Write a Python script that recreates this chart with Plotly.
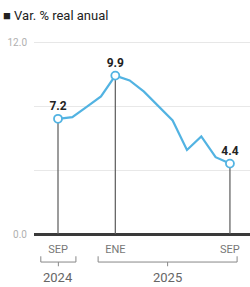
import plotly.graph_objects as go

months = ["SEP", "OCT", "NOV", "DIC", "ENE", "FEB", "MAR", "ABR", "MAY", "JUN", "JUL", "AGO", "SEP"]
values = [7.2, 7.3, 7.95, 8.6, 9.9, 9.6, 8.9, 8.0, 7.1, 5.25, 6.1, 4.8, 4.4]
highlight_idx = [0, 4, 12]
tick_idx = [0, 4, 12]
tick_labels = ["SEP", "ENE", "SEP"]
years = ["2024", "2025"]
year_spans = [(-1.2, 1.25), (2.8, 12.5)]
y_ticks = [0, 4, 8, 12]
y_ticktext = ["0.0", "", "", "12.0"]

x = list(range(len(values)))
BLUE = "#52b3e2"

fig = go.Figure()

for i in highlight_idx:
    fig.add_trace(go.Scatter(x=[i, i], y=[0, values[i]], mode="lines",
                             line=dict(color="#5a5a5a", width=1.2),
                             hoverinfo="skip", showlegend=False))

fig.add_trace(go.Scatter(x=x, y=values, mode="lines",
                         line=dict(color=BLUE, width=2.2),
                         showlegend=False))

fig.add_trace(go.Scatter(x=[x[i] for i in highlight_idx],
                         y=[values[i] for i in highlight_idx],
                         mode="markers+text",
                         marker=dict(size=8, color="white", line=dict(color=BLUE, width=1.8)),
                         text=[f"{values[i]:.1f}" for i in highlight_idx],
                         textposition="top center",
                         textfont=dict(family="Roboto", size=12, color="#222222", weight="bold"),
                         cliponaxis=False,
                         showlegend=False))

fig.update_layout(
    width=250, height=287,
    margin=dict(l=34, r=0, t=42, b=53),
    paper_bgcolor="white", plot_bgcolor="white",
    font=dict(family="Roboto"),
    xaxis=dict(range=[-1.675, 13.4], tickvals=tick_idx, ticktext=tick_labels,
               showgrid=False, zeroline=False, showline=False,
               tickfont=dict(family="Liberation Sans Narrow, Roboto", size=11, color="#777777"),
               ticks="", ticklabelstandoff=7, fixedrange=True, automargin=False),
    yaxis=dict(range=[0, 12], tickvals=y_ticks, ticktext=y_ticktext,
               showgrid=True, gridcolor="#e8e8e8", gridwidth=1,
               zeroline=True, zerolinecolor="#3a3a3a", zerolinewidth=2.5,
               tickfont=dict(family="Liberation Sans Narrow, Roboto", size=10, color="#b0b0b0"),
               ticks="", ticklabelstandoff=6, showline=False, fixedrange=True, automargin=False),
)

# top gridline darker
fig.add_shape(type="line", xref="paper", yref="y", x0=0, x1=1, y0=12, y1=12,
              line=dict(color="#cfcfcf", width=1))

# year brackets
for yr, (x0, x1) in zip(years, year_spans):
    xm = (x0 + x1) / 2
    yb = -0.146
    for sh in [dict(x0=x0, x1=x1, y0=yb, y1=yb),
               dict(x0=x0, x1=x0, y0=yb, y1=yb + 0.03),
               dict(x0=x1, x1=x1, y0=yb, y1=yb + 0.03),
               dict(x0=xm, x1=xm, y0=yb, y1=yb - 0.022)]:
        fig.add_shape(type="line", xref="x", yref="paper",
                      line=dict(color="#888888", width=1), **sh)
    fig.add_annotation(x=xm, y=-0.178, xref="x", yref="paper", text=yr,
                       showarrow=False, yanchor="top",
                       font=dict(family="Liberation Sans Narrow, Roboto", size=13, color="#666666"))

# legend label
fig.add_annotation(x=-33 / 216, y=(234 - 16) / 192, xref="paper", yref="paper",
                   xanchor="left", yanchor="middle", showarrow=False,
                   text="<b>■</b> Var. % real anual",
                   font=dict(family="Roboto", size=13, color="#222222"))

# cut-off title
fig.add_annotation(x=-34 / 216, y=(234 - 4.5) / 192, xref="paper", yref="paper",
                   xanchor="left", yanchor="bottom", showarrow=False,
                   text="<b>de la banca comercial</b>",
                   font=dict(family="Roboto", size=13, color="#222222"))

fig.write_html("out.html", config={"displayModeBar": False},
               post_script="document.body.style.margin='0';document.body.style.overflow='hidden';")
